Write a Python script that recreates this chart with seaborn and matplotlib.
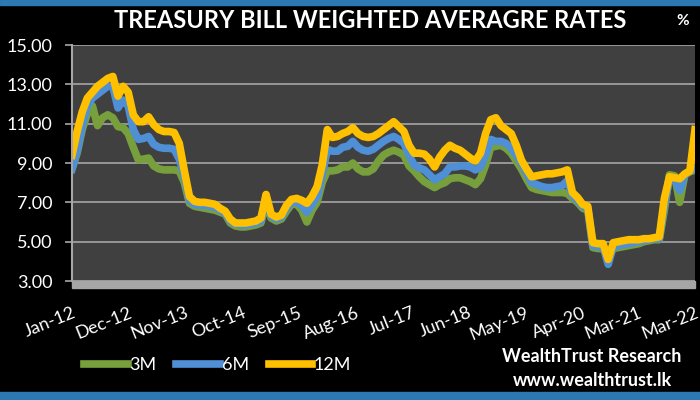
import numpy as np
import pandas as pd
import seaborn as sns
import matplotlib.pyplot as plt
from matplotlib.patches import Rectangle

# monthly readings, Jan-12 .. Mar-22
rate_12m = [
    9.4, 10.6, 11.6, 12.3, 12.6, 12.9, 13.1, 13.3, 13.4, 12.4, 12.9, 12.6,
    11.45, 11.1, 11.1, 11.35, 10.95, 10.7, 10.6, 10.6, 10.55, 10.0, 8.6, 7.3,
    7.05, 7.0, 7.0, 6.95, 6.9, 6.7, 6.55, 6.15, 5.95, 5.95, 5.95, 6.0,
    6.05, 6.2, 7.4, 6.4, 6.25, 6.35, 6.85, 7.15, 7.2, 7.1, 6.95, 7.3,
    7.8, 8.9, 10.7, 10.3, 10.35, 10.5, 10.6, 10.8, 10.5, 10.35, 10.3, 10.35,
    10.5, 10.7, 10.9, 11.1, 10.85, 10.6, 9.9, 9.5, 9.5, 9.45, 9.2, 8.8,
    9.3, 9.65, 9.9, 9.75, 9.65, 9.45, 9.25, 9.1, 9.5, 10.5, 11.2, 11.3,
    10.9, 10.7, 10.5, 9.9, 9.15, 8.7, 8.3, 8.35, 8.4, 8.45, 8.45, 8.5,
    8.55, 8.65, 7.5, 7.25, 6.9, 6.8, 4.95, 4.9, 4.9, 4.1, 4.95, 5.0,
    5.05, 5.1, 5.1, 5.1, 5.15, 5.15, 5.2, 5.25, 7.2, 8.3, 8.25, 8.2,
    8.45, 8.6, 10.7,
]
rate_6m = [
    8.7, 9.6, 10.9, 11.9, 12.3, 12.5, 12.7, 12.9, 12.9, 11.8, 12.2, 11.9,
    10.7, 10.2, 10.25, 10.35, 9.95, 9.8, 9.75, 9.75, 9.7, 9.2, 8.3, 7.1,
    6.9, 6.85, 6.85, 6.8, 6.75, 6.6, 6.45, 6.05, 5.9, 5.85, 5.85, 5.9,
    5.95, 6.05, 7.2, 6.3, 6.15, 6.25, 6.7, 7.0, 7.0, 6.85, 6.5, 6.9,
    7.3, 8.4, 9.7, 9.6, 9.6, 9.8, 9.85, 10.1, 9.8, 9.65, 9.6, 9.7,
    9.9, 10.1, 10.25, 10.35, 10.2, 10.0, 9.4, 8.9, 8.75, 8.65, 8.4, 8.15,
    8.3, 8.45, 8.8, 8.8, 8.85, 8.85, 8.8, 8.65, 8.8, 9.4, 10.2, 10.1,
    10.1, 10.0, 9.75, 9.4, 9.0, 8.5, 8.0, 7.9, 7.8, 7.75, 7.75, 7.8,
    7.85, 8.1, 7.35, 7.1, 6.8, 6.7, 4.8, 4.75, 4.75, 3.85, 4.75, 4.8,
    4.85, 4.9, 4.95, 5.0, 5.05, 5.1, 5.15, 5.15, 6.8, 8.25, 8.2, 7.6,
    8.4, 8.6, 8.7,
]
rate_3m = [
    8.7, 9.5, 10.7, 11.5, 11.9, 10.9, 11.3, 11.45, 11.3, 10.85, 10.8, 10.5,
    9.8, 9.15, 9.2, 9.25, 8.85, 8.7, 8.65, 8.65, 8.65, 8.6, 8.0, 6.95,
    6.8, 6.75, 6.7, 6.65, 6.6, 6.5, 6.4, 5.95, 5.8, 5.75, 5.75, 5.8,
    5.85, 5.95, 7.0, 6.2, 6.05, 6.15, 6.55, 6.9, 6.9, 6.6, 6.0, 6.6,
    7.0, 8.0, 8.6, 8.6, 8.65, 8.8, 8.8, 9.0, 8.7, 8.55, 8.55, 8.7,
    9.1, 9.4, 9.55, 9.65, 9.55, 9.4, 8.85, 8.6, 8.3, 8.05, 7.9, 7.75,
    7.9, 8.0, 8.2, 8.25, 8.25, 8.15, 8.05, 7.9, 8.2, 8.9, 9.8, 9.85,
    9.9, 9.75, 9.5, 9.1, 8.7, 8.2, 7.75, 7.65, 7.6, 7.55, 7.5, 7.5,
    7.5, 7.45, 7.2, 7.0, 6.7, 6.6, 4.7, 4.65, 4.65, 4.3, 4.65, 4.7,
    4.75, 4.8, 4.85, 4.9, 5.0, 5.05, 5.1, 5.1, 6.6, 8.4, 8.35, 7.0,
    8.4, 8.55, 8.65,
]
tick_labels = ['Jan-12', 'Dec-12', 'Nov-13', 'Oct-14', 'Sep-15', 'Aug-16',
               'Jul-17', 'Jun-18', 'May-19', 'Apr-20', 'Mar-21', 'Mar-22']
tenors = ['3M', '6M', '12M']
colors = {'3M': '#77a03c', '6M': '#4f8fd6', '12M': '#ffc000'}

month = np.arange(len(rate_12m))
df = pd.concat([
    pd.DataFrame({'month': month, 'rate': rate_3m, 'tenor': '3M'}),
    pd.DataFrame({'month': month, 'rate': rate_6m, 'tenor': '6M'}),
    pd.DataFrame({'month': month, 'rate': rate_12m, 'tenor': '12M'}),
])

plt.rcParams['font.family'] = ['Lato', 'DejaVu Sans']

fig = plt.figure(figsize=(7, 4), dpi=100, facecolor='black')
ax = fig.add_axes([72 / 700, 1 - 281 / 400, 623 / 700, 236 / 400])
ax.set_facecolor('#404040')

sns.lineplot(data=df, x='month', y='rate', hue='tenor', hue_order=tenors,
             palette=colors, linewidth=5.5, ax=ax, legend=True)

ax.set_xlim(0, month[-1])
ax.set_ylim(3, 15)
ax.set_yticks(np.arange(3, 16, 2))
ax.set_yticklabels([f'{v:.2f}' for v in np.arange(3, 16, 2)])
ax.set_xticks(np.linspace(0, month[-1], len(tick_labels)))
ax.set_xticklabels(tick_labels, rotation=22, ha='right', rotation_mode='anchor')
ax.grid(axis='y', color='#a6a6a6', linewidth=1.2)
ax.set_axisbelow(True)
ax.set_xlabel('')
ax.set_ylabel('')
for s in ['top', 'right', 'bottom']:
    ax.spines[s].set_visible(False)
ax.spines['left'].set_color('#a6a6a6')
ax.spines['left'].set_linewidth(1.5)
ax.tick_params(axis='y', colors='#a6a6a6', labelcolor='white', length=5,
               width=1.2, pad=9, labelsize=13)
ax.tick_params(axis='x', length=0, labelcolor='white', pad=17, labelsize=13)

handles, labels = ax.get_legend_handles_labels()
ax.get_legend().remove()
fig.legend(handles, labels, loc='center left', bbox_to_anchor=(68 / 700, 1 - 365 / 400),
           ncol=3, frameon=False, fontsize=13, labelcolor='white',
           handlelength=2.4, handletextpad=0.1, columnspacing=1.1)

# grey axis band and blue frame strips
fig.patches.append(Rectangle((72 / 700, 1 - 288 / 400), 623 / 700, 7 / 400,
                             transform=fig.transFigure, color='#a6a6a6'))
fig.patches.append(Rectangle((0, 1 - 5 / 400), 1, 5 / 400,
                             transform=fig.transFigure, color='#2b78b3'))
fig.patches.append(Rectangle((0, 0), 1, 8 / 400,
                             transform=fig.transFigure, color='#2b78b3'))

fig.text(370 / 700, 1 - 21 / 400, 'TREASURY BILL WEIGHTED AVERAGRE RATES',
         color='white', fontsize=17, fontweight='bold', ha='center', va='center')
fig.text(683 / 700, 1 - 21 / 400, '%', color='white', fontsize=11,
         fontweight='bold', ha='center', va='center')
fig.text(592 / 700, 1 - 357 / 400, 'WealthTrust Research', color='white',
         fontsize=13, fontweight='bold', ha='center', va='center')
fig.text(592 / 700, 1 - 381 / 400, 'www.wealthtrust.lk', color='white',
         fontsize=13, fontweight='bold', ha='center', va='center')

fig.savefig('out.png', dpi=100, facecolor='black')
